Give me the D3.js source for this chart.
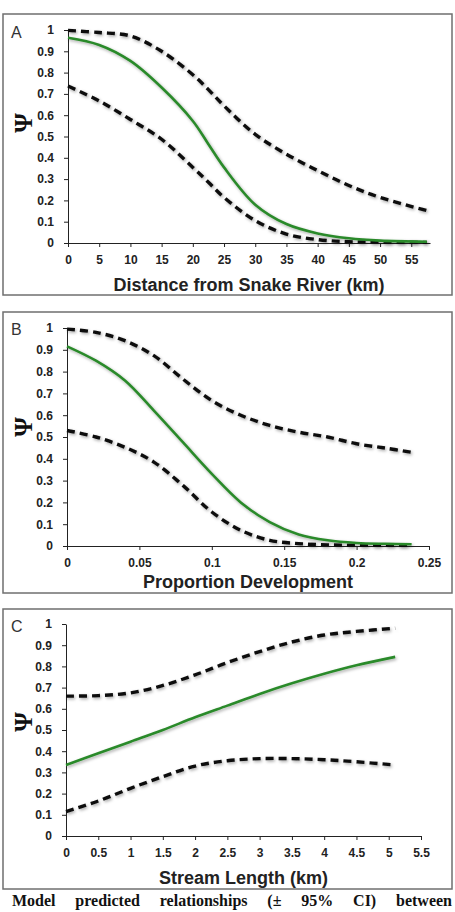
<!DOCTYPE html>
<html>
  <head>
    <meta charset="utf-8" />
    <title>Model predicted relationships</title>
    <style>
      body {
        margin: 0;
        background: #fff;
      }
      .tick text {
        font-weight: bold;
        font-size: 12px;
        fill: #222;
      }
    </style>
  </head>
  <body>
    <svg id="chart" width="455" height="912"></svg>
    <script src="https://d3js.org/d3.v7.min.js"></script>
    <script>
      // panel A: distance from Snake River (km)
      var distX = [0, 5, 10, 15, 20, 22.5, 25, 30, 35, 40, 45, 50, 57.5];
      var distFit = [0.964, 0.93, 0.855, 0.73, 0.573, 0.464, 0.355, 0.18, 0.089, 0.045, 0.022, 0.011, 0.006];
      var distUpper = [0.998, 0.988, 0.972, 0.9, 0.79, 0.72, 0.644, 0.51, 0.417, 0.34, 0.27, 0.214, 0.152];
      var distLower = [0.737, 0.667, 0.58, 0.487, 0.355, 0.285, 0.214, 0.105, 0.042, 0.016, 0.006, 0.004, 0.003];
      var distTicks = [0, 5, 10, 15, 20, 25, 30, 35, 40, 45, 50, 55];

      // panel B: proportion development
      var devX = [0, 0.02, 0.04, 0.06, 0.08, 0.1, 0.12, 0.14, 0.16, 0.18, 0.2, 0.22, 0.238];
      var devFit = [0.916, 0.85, 0.759, 0.621, 0.476, 0.331, 0.2, 0.11, 0.053, 0.026, 0.014, 0.01, 0.008];
      var devUpper = [0.995, 0.98, 0.942, 0.873, 0.766, 0.667, 0.6, 0.553, 0.522, 0.5, 0.469, 0.449, 0.43];
      var devLower = [0.53, 0.5, 0.453, 0.385, 0.278, 0.156, 0.072, 0.026, 0.011, 0.005, 0.003, 0.003, 0.003];
      var devTicks = [0, 0.05, 0.1, 0.15, 0.2, 0.25];

      // panel C: stream length (km)
      var lenX = [0, 0.5, 1, 1.5, 2, 2.5, 3, 3.5, 4, 4.5, 5.1];
      var lenFit = [0.335, 0.39, 0.445, 0.5, 0.56, 0.615, 0.67, 0.72, 0.765, 0.805, 0.845];
      var lenUpper = [0.66, 0.662, 0.675, 0.71, 0.76, 0.818, 0.87, 0.915, 0.948, 0.965, 0.98];
      var lenLower = [0.115, 0.165, 0.225, 0.28, 0.33, 0.355, 0.365, 0.365, 0.36, 0.35, 0.335];
      var lenTicks = [0, 0.5, 1, 1.5, 2, 2.5, 3, 3.5, 4, 4.5, 5, 5.5];

      var psiTicks = [0, 0.1, 0.2, 0.3, 0.4, 0.5, 0.6, 0.7, 0.8, 0.9, 1];

      var captionWords = ["Model", "predicted", "relationships", "(\u00B1", "95%", "CI)", "between"];

      var sans = "'Liberation Sans', Arial, sans-serif";
      var serif = "'Liberation Serif', 'Times New Roman', serif";

      var svg = d3.select("#chart");

      // soft shadow under the curves
      var filter = svg.append("defs").append("filter")
        .attr("id", "shadow")
        .attr("x", "-10%").attr("y", "-10%")
        .attr("width", "130%").attr("height", "130%");
      filter.append("feDropShadow")
        .attr("dx", 1.2).attr("dy", 1.5)
        .attr("stdDeviation", 1.4)
        .attr("flood-color", "#000")
        .attr("flood-opacity", 0.35);

      var panels = [
        { letter: "A", title: "Distance from Snake River (km)", xs: distX, fit: distFit, upper: distUpper, lower: distLower,
          ticks: distTicks, fmt: d3.format("d"), domain: [0, 58],
          frame: [3, 14, 452, 295], plot: [68, 430, 243, 30], psiY: 123, letterY: 38, tickY: 264, titleY: 291 },
        { letter: "B", title: "Proportion Development", xs: devX, fit: devFit, upper: devUpper, lower: devLower,
          ticks: devTicks, fmt: function(d) { return d === 0 ? "0" : String(d); }, domain: [0, 0.25],
          frame: [3, 312, 452, 593], plot: [67, 429, 546, 328], psiY: 427, letterY: 335, tickY: 567, titleY: 588 },
        { letter: "C", title: "Stream Length (km)", xs: lenX, fit: lenFit, upper: lenUpper, lower: lenLower,
          ticks: lenTicks, fmt: function(d) { return String(d); }, domain: [0, 5.5],
          frame: [3, 609, 452, 889], plot: [66, 421, 836, 624], psiY: 722, letterY: 632, tickY: 857, titleY: 884 }
      ];

      panels.forEach(function(p) {
        var g = svg.append("g").style("font-family", sans);

        g.append("rect")
          .attr("x", p.frame[0]).attr("y", p.frame[1])
          .attr("width", p.frame[2] - p.frame[0])
          .attr("height", p.frame[3] - p.frame[1])
          .attr("fill", "none")
          .attr("stroke", "#6f6f6f")
          .attr("stroke-width", 1.5);

        var x = d3.scaleLinear().domain(p.domain).range([p.plot[0], p.plot[1]]);
        var y = d3.scaleLinear().domain([0, 1]).range([p.plot[2], p.plot[3]]);

        var xAxis = g.append("g")
          .attr("transform", "translate(0," + p.plot[2] + ")")
          .call(d3.axisBottom(x).tickValues(p.ticks).tickFormat(p.fmt).tickSize(4).tickPadding(6).tickSizeOuter(0));
        xAxis.selectAll("text").attr("y", null).attr("dy", null)
          .attr("transform", "translate(0," + (p.tickY - p.plot[2]) + ")");

        g.append("g")
          .attr("transform", "translate(" + p.plot[0] + ",0)")
          .call(d3.axisLeft(y).tickValues(psiTicks).tickFormat(function(d) { return String(d); }).tickSize(4).tickPadding(10).tickSizeOuter(0));

        g.selectAll(".tick text").style("font-family", sans);
        g.selectAll(".domain, .tick line").attr("stroke", "#222").attr("stroke-width", 1);

        var line = function(vals) {
          return d3.line()
            .x(function(d, i) { return x(p.xs[i]); })
            .y(function(d) { return y(d); })
            .curve(d3.curveCatmullRom.alpha(0.5))(vals);
        };

        [p.upper, p.lower].forEach(function(vals) {
          g.append("path")
            .attr("d", line(vals))
            .attr("fill", "none")
            .attr("stroke", "#111")
            .attr("stroke-width", 3.4)
            .attr("stroke-dasharray", "8,5")
            .attr("filter", "url(#shadow)");
        });

        g.append("path")
          .attr("d", line(p.fit))
          .attr("fill", "none")
          .attr("stroke", "#2b8a2b")
          .attr("stroke-width", 2.6)
          .attr("filter", "url(#shadow)");

        g.append("text")
          .attr("x", 11).attr("y", p.letterY)
          .attr("font-size", 16)
          .attr("fill", "#333")
          .text(p.letter);

        g.append("text")
          .attr("transform", "translate(32," + p.psiY + ") rotate(-90)")
          .attr("text-anchor", "middle")
          .style("font-family", serif)
          .attr("font-weight", "bold")
          .attr("font-size", 25)
          .attr("fill", "#111")
          .text("\u03A8");

        g.append("text")
          .attr("x", (p.plot[0] + p.plot[1]) / 2)
          .attr("y", p.titleY)
          .attr("text-anchor", "middle")
          .attr("font-weight", "bold")
          .attr("font-size", 18)
          .attr("fill", "#222")
          .text(p.title);
      });

      // caption line under the panels, justified between the margins
      var cap = svg.append("g")
        .style("font-family", serif)
        .attr("font-weight", "bold")
        .attr("font-size", 16)
        .attr("fill", "#111");
      var words = cap.selectAll("text").data(captionWords).join("text")
        .attr("y", 906)
        .text(function(d) { return d; });
      var widths = [];
      words.each(function() { widths.push(this.getComputedTextLength()); });
      var left = 12, right = 452;
      var gap = (right - left - d3.sum(widths)) / (captionWords.length - 1);
      var pos = left;
      words.attr("x", function(d, i) {
        var at = pos;
        pos += widths[i] + gap;
        return at;
      });
    </script>
  </body>
</html>
